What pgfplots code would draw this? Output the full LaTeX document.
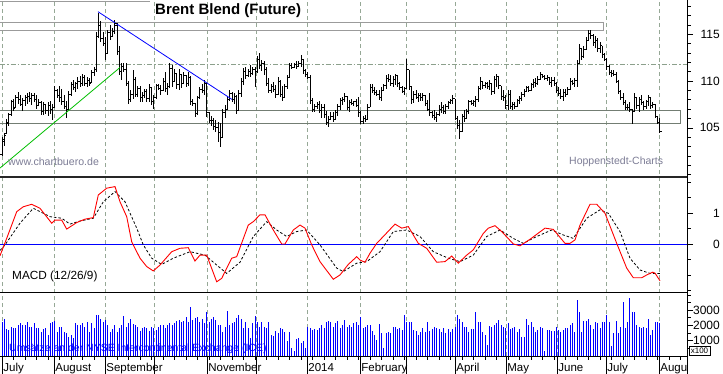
\documentclass[border=0pt]{standalone}
\usepackage{pgfplots}
\pgfplotsset{compat=1.18}
\usepackage{pgfplotstable}
\usepackage{fontspec}
\setmainfont{Liberation Sans}

\definecolor{gridc}{RGB}{150,168,150}
\definecolor{boxc}{RGB}{155,155,155}
\definecolor{rectc}{RGB}{115,125,115}
\definecolor{dashc}{RGB}{140,160,140}
\definecolor{wmark}{RGB}{125,125,150}

\pgfdeclareplotmark{rtick}{\pgfpathmoveto{\pgfpointorigin}\pgfpathlineto{\pgfpoint{1.9pt}{0pt}}\pgfusepathqstroke}
\pgfdeclareplotmark{ltick}{\pgfpathmoveto{\pgfpointorigin}\pgfpathlineto{\pgfpoint{-1.9pt}{0pt}}\pgfusepathqstroke}

\pgfplotstableread{
o h l c v
102.2 104.0 102.0 103.8 2250
103.6 104.4 103.1 104.2 2400
104.4 105.9 104.3 105.6 1750
105.5 106.6 105.2 106.4 1700
106.4 108.0 106.3 107.8 1900
107.8 108.1 106.8 107.1 1850
107.2 108.5 107.1 108.2 1800
108.2 108.8 107.6 108.0 2000
108.0 108.5 107.3 107.5 2150
107.5 108.2 106.8 107.9 2050
107.9 108.5 107.3 108.2 2000
108.2 108.7 107.6 108.4 2250
108.4 108.8 107.8 108.1 1900
108.1 108.7 107.4 108.5 1900
108.5 108.7 107.8 108.0 2150
108.0 108.5 107.0 107.4 1800
107.4 108.1 107.3 107.7 1800
107.7 107.9 106.4 106.8 1600
106.8 107.8 106.4 107.5 1750
107.5 107.6 106.5 106.9 1850
106.9 107.8 106.3 107.4 1350
107.4 107.9 106.5 107.0 2150
107.0 107.5 105.8 107.2 2250
107.2 109.5 107.1 109.0 2300
109.0 109.2 108.2 108.5 1600
108.5 109.5 107.8 108.3 1900
108.3 109.2 107.4 107.8 1900
107.8 108.5 107.0 107.3 1600
107.3 107.9 106.0 107.0 1500
107.0 108.9 106.9 108.6 1250
108.6 109.9 108.4 109.6 1400
109.6 110.1 109.0 109.3 1200
109.3 109.9 108.8 109.7 2150
109.7 110.4 109.2 110.0 2050
110.0 110.5 109.4 109.7 2000
109.7 110.8 109.5 110.4 2150
110.4 110.6 109.5 109.8 1900
109.8 110.4 109.4 110.1 2250
110.1 110.3 109.5 109.8 1600
109.9 111.2 109.8 110.9 2150
110.9 111.5 110.5 111.2 1800
111.2 115.3 111.0 114.8 2700
114.8 117.3 114.6 116.0 2650
116.0 116.4 114.2 114.6 2450
114.6 115.3 113.7 114.0 2250
114.0 114.7 112.2 113.0 2350
113.0 115.5 112.9 115.2 2050
115.2 116.0 114.4 114.8 1600
114.8 115.7 114.7 115.3 1750
115.3 116.5 115.0 116.2 2000
116.0 116.2 112.8 113.2 1550
113.2 113.7 110.6 111.0 1800
111.0 111.9 110.1 111.6 2000
111.6 111.9 111.0 111.2 2600
111.2 111.9 109.5 109.8 1900
109.8 110.0 107.6 108.0 2150
108.0 109.0 107.8 108.6 2450
108.6 111.2 108.1 110.2 2100
110.2 110.4 108.3 108.6 2000
108.6 109.5 108.3 109.2 1900
109.2 109.5 107.8 108.2 1650
108.2 108.8 107.8 108.5 1850
108.5 109.2 108.2 108.9 1900
108.9 109.2 107.8 108.1 1800
108.1 109.7 107.8 109.3 1650
109.3 109.4 107.4 107.8 1900
107.8 108.5 107.0 108.2 1800
108.2 109.7 108.1 109.5 1700
109.5 109.7 109.0 109.2 1900
109.2 109.6 108.5 109.0 2000
109.0 110.3 108.9 110.0 2000
110.0 111.0 108.8 109.2 1800
109.2 109.8 108.5 109.4 2050
109.4 111.9 109.3 111.4 2150
111.4 111.7 109.4 110.0 2000
110.0 111.3 109.9 110.8 2150
110.8 110.9 109.2 109.6 2300
109.6 111.3 109.0 110.7 2350
110.7 110.8 109.3 109.8 2250
109.8 111.0 109.7 110.6 2300
110.6 110.7 109.4 109.8 2550
109.8 111.0 109.5 110.4 2250
110.4 110.5 107.4 107.8 3200
107.8 108.1 107.3 107.6 2350
107.6 107.7 106.2 106.5 2500
106.5 108.4 106.4 108.2 2550
108.2 109.4 108.1 109.1 2250
109.1 109.7 108.7 109.0 2400
109.0 110.1 108.5 109.7 2150
109.7 109.8 106.2 106.6 2900
106.6 106.7 105.5 105.8 2250
105.8 106.3 105.2 105.8 2400
105.8 106.0 104.8 105.2 2550
105.2 105.8 104.6 105.0 2350
105.0 105.6 103.5 104.5 2050
104.5 105.5 102.9 104.0 2000
104.0 107.0 103.9 106.6 1600
106.6 107.4 106.0 107.0 1900
107.0 108.3 106.9 108.0 2950
108.0 109.0 107.9 108.7 2000
108.7 108.8 107.8 108.0 2150
108.0 108.7 107.6 108.4 2250
108.4 108.5 106.5 106.9 2500
106.9 109.0 106.8 108.7 2700
108.7 110.3 108.3 110.0 2400
110.0 111.4 109.6 111.0 1800
111.0 111.5 110.2 110.6 2250
110.6 111.3 110.4 111.0 1800
111.0 111.7 110.4 110.8 1150
110.8 111.5 110.6 111.2 2150
111.2 111.5 109.4 111.0 2600
111.0 112.7 110.9 112.3 2250
112.3 113.0 111.3 111.7 1900
111.7 112.3 111.1 111.9 2250
111.9 112.1 110.6 111.2 1900
111.2 111.5 109.5 109.7 1850
109.7 110.3 108.7 109.0 2250
109.0 109.7 108.7 109.4 1350
109.4 109.9 108.8 109.1 1300
109.1 109.6 108.2 108.6 1650
108.6 110.4 108.5 110.0 1500
110.0 110.1 108.3 108.6 1800
108.6 109.5 107.9 108.3 1750
108.3 109.7 108.2 109.4 1600
109.4 110.6 109.2 110.4 950
110.4 111.9 110.3 111.7 1600
111.7 111.9 111.3 111.5 500
111.5 111.9 111.4 111.8 350
111.8 112.1 111.3 111.6 1100
111.6 112.1 111.5 111.9 1200
111.9 112.8 111.5 112.3 850
112.3 112.4 110.8 111.1 950
111.1 111.3 110.4 110.7 500
110.7 111.0 110.2 110.4 1900
110.4 110.6 107.6 107.9 1800
107.9 108.2 106.7 107.0 1700
107.0 107.6 106.7 107.3 1750
107.3 107.8 107.0 107.5 1700
107.5 107.9 106.6 106.9 1800
106.9 107.6 106.1 107.2 2000
107.2 107.6 106.1 106.4 1800
106.4 106.8 105.3 105.6 2250
105.6 106.3 105.1 105.9 2300
105.9 106.7 105.8 106.2 2250
106.2 106.7 105.6 105.9 1900
105.9 106.9 105.8 106.6 2150
106.6 107.6 106.3 107.3 2300
107.3 108.2 106.9 107.9 1800
107.9 108.3 107.4 108.0 2000
108.0 108.7 107.8 108.4 2350
108.4 108.4 106.9 107.2 1900
107.2 108.0 106.7 107.7 2000
107.7 108.1 107.4 107.6 1900
107.6 107.9 107.3 107.8 2150
107.8 108.1 107.2 107.4 2250
107.4 108.3 106.2 106.6 2000
106.6 106.8 105.4 105.7 2550
105.7 106.3 105.4 106.0 1800
106.0 106.4 105.6 105.9 1900
105.9 107.5 105.8 107.2 2000
107.2 109.7 107.2 109.3 2050
109.3 109.7 108.7 109.0 1650
109.0 109.4 108.5 108.8 1350
108.8 109.0 108.4 108.6 1050
108.6 109.0 108.0 108.3 2100
108.3 109.4 107.9 109.0 1500
109.0 109.7 108.9 109.5 550
109.5 110.6 109.2 110.3 1500
110.3 110.8 109.9 110.2 1600
110.2 110.6 109.5 109.8 1500
109.8 110.5 109.4 110.2 1900
110.2 110.8 109.6 110.6 1900
110.6 110.6 109.4 109.7 1750
109.7 109.9 109.0 109.3 1850
109.3 109.5 108.7 108.9 1700
108.9 109.4 108.5 109.2 2700
109.2 112.4 109.1 111.2 2200
111.2 111.2 109.0 109.4 2200
109.4 109.5 107.6 108.0 2200
108.0 108.9 107.7 108.6 1700
108.6 109.0 108.1 108.3 1650
108.3 108.7 107.8 108.5 1350
108.5 108.7 107.9 108.2 1600
108.2 108.7 107.9 108.5 1800
108.5 108.5 107.3 107.6 1600
107.6 108.0 106.8 107.0 2200
107.0 108.7 106.3 106.6 1650
106.6 106.8 106.0 106.3 1750
106.3 106.9 105.8 106.1 1900
106.1 106.7 105.6 106.4 1850
106.4 107.4 106.3 107.0 1750
107.0 107.8 106.6 107.2 1600
107.2 107.4 106.5 106.8 1850
106.8 107.6 106.5 107.3 1500
107.3 107.9 107.0 107.7 1750
107.7 108.1 107.5 107.9 1600
107.9 108.5 107.6 108.1 1750
108.1 108.1 105.8 106.0 1900
106.0 106.3 104.9 105.3 2650
105.3 105.8 103.8 104.6 2450
104.6 106.5 104.5 106.2 2200
106.2 106.9 105.6 106.0 1900
106.0 107.0 105.9 106.8 1900
106.8 108.0 106.5 107.8 1600
107.8 108.0 107.4 107.6 1750
107.6 108.0 107.3 107.8 1750
107.8 108.4 107.2 108.0 2850
108.0 109.5 107.8 109.2 2250
109.2 110.4 109.0 110.0 2250
110.0 110.0 109.2 109.5 1600
109.5 109.9 109.3 109.7 1350
109.7 109.9 109.2 109.4 700
109.4 110.1 109.0 109.8 1950
109.8 109.8 108.5 108.9 1900
108.9 110.5 108.6 110.2 2000
110.2 110.8 109.4 110.5 2150
110.5 110.5 109.2 109.5 2350
109.5 109.5 108.0 108.4 2000
108.4 109.0 107.9 108.2 1900
108.2 108.5 107.0 107.4 1800
107.4 109.0 106.9 108.6 2150
108.6 109.0 107.0 107.3 1750
107.3 107.8 106.9 107.5 1800
107.5 107.8 107.0 107.3 1900
107.3 108.1 107.2 107.9 1600
107.9 108.4 107.6 108.1 1750
108.1 108.8 107.9 108.6 1250
108.6 109.2 108.3 108.9 1250
108.9 109.5 108.8 109.3 2450
109.3 109.5 108.8 109.0 2000
109.0 109.8 108.9 109.6 2250
109.6 110.2 109.3 109.9 1900
109.9 110.3 109.4 109.7 1600
109.7 110.5 109.6 110.2 1700
110.2 111.0 110.1 110.7 1900
110.7 110.8 110.3 110.5 1850
110.5 110.7 110.1 110.3 300
110.3 110.6 110.0 110.4 1700
110.4 110.4 109.6 109.9 1700
109.9 110.4 109.4 110.1 1650
110.1 110.4 109.5 109.8 1650
109.8 109.9 108.7 109.0 1900
109.0 109.4 108.4 108.7 1700
108.7 109.2 108.1 108.4 1600
108.4 109.1 107.9 108.8 1700
108.8 109.1 108.3 108.6 1800
108.6 109.4 108.5 109.1 1850
109.1 110.3 109.0 110.0 2000
110.0 110.1 109.6 109.8 2150
109.8 110.3 109.4 110.1 1600
110.1 112.2 109.4 111.9 3650
111.9 114.0 111.8 113.5 2850
113.5 113.5 112.2 112.6 1600
112.6 113.7 112.5 113.4 2300
113.4 114.7 113.3 114.4 2300
114.4 115.5 114.3 115.1 2450
115.1 115.5 114.5 114.9 2050
114.9 115.0 113.8 114.1 1750
114.1 114.8 113.5 114.4 2250
114.4 114.6 113.1 113.5 2150
113.5 114.2 113.0 113.8 1800
113.8 113.8 112.5 112.8 2200
112.8 113.0 112.1 112.3 2250
112.3 112.5 111.2 111.6 2700
111.6 111.7 110.6 110.9 2250
110.9 111.2 110.4 110.8 650
110.8 111.2 110.5 110.7 1500
110.7 111.0 109.8 110.0 2300
110.0 110.1 108.6 108.9 1500
108.9 109.0 108.0 108.3 1900
108.3 108.7 107.4 107.7 3500
107.7 108.0 106.9 107.2 1800
107.2 107.6 106.9 107.2 2250
107.2 107.8 106.7 107.0 3800
107.0 107.0 105.4 106.8 2900
106.8 108.7 106.7 108.3 2900
108.3 108.3 107.0 107.4 2000
107.4 108.3 106.7 108.0 1900
108.0 108.5 107.4 107.7 1800
107.7 107.9 106.9 107.3 1900
107.3 108.0 107.0 107.8 1800
107.8 108.5 107.3 108.2 2450
108.2 108.2 107.0 107.4 1400
107.4 107.8 107.1 107.5 1700
107.5 107.5 106.0 106.2 2200
106.2 106.2 105.4 105.6 2250
105.6 106.0 104.4 104.6 2150
}\ohlc

\pgfplotsset{
  panel/.style={
    scale only axis, width=687pt, xmin=0, xmax=687,
    axis y line*=right, axis x line*=bottom, axis line style={-},
    y axis line style={line width=0.8pt, black},
    xtick=\empty, tick align=outside,
    major tick length=6pt, minor tick length=3.5pt,
    tick style={black, line width=0.6pt},
    tick label style={font=\fontsize{12}{14}\selectfont, black},
    yticklabel style={anchor=east, inner sep=0pt, xshift=27pt},
    /pgf/number format/assume math mode=true,
    /pgf/number format/1000 sep={},
    clip=true,
  },
}

\begin{document}
\begin{tikzpicture}
\useasboundingbox (0,0) rectangle (723pt,373pt);
\fill[white] (0,0) rectangle (723pt,373pt);

% month grid lines
\begin{scope}[x=1pt,y=1pt]
\foreach \x in {2,54,105,154,207,256,307,360,406,455,506,557,606,659}
  \draw[gridc, line width=0.7pt, dash pattern=on 4pt off 3pt] (\x,17) -- (\x,373);
\end{scope}

% ---------- price panel ----------
\begin{axis}[panel, at={(0pt,196pt)}, anchor=south west, height=177pt,
  ymin=99.74, ymax=118.67,
  ytick={105,110,115}, minor ytick={100,...,118},
  x axis line style={line width=2pt, black!85}]
\addplot[boxc, line width=0.8pt] coordinates {(0,118.47) (150,118.47)};
\addplot[boxc, line width=0.8pt] coordinates {(0,116.24) (603,116.24) (603,115.46) (0,115.46)};
\addplot[rectc, line width=0.8pt] coordinates {(0,106.90) (680,106.90) (680,105.48) (0,105.48)};
\addplot[dashc, line width=0.8pt, dash pattern=on 5pt off 2pt on 1.5pt off 2pt] coordinates {(0,111.79) (687,111.79)};
\addplot[black, only marks, mark=rtick, mark options={line width=0.8pt},
  error bars/.cd, y dir=both, y explicit, error mark=none,
  error bar style={line width=0.85pt, black}]
  table[x expr={2+2.3*\coordindex}, y=c,
        y error plus expr={\thisrow{h}-\thisrow{c}},
        y error minus expr={\thisrow{c}-\thisrow{l}}]{\ohlc};
\addplot[black, only marks, mark=ltick, mark options={line width=0.8pt}]
  table[x expr={2+2.3*\coordindex}, y=o]{\ohlc};
\addplot[blue, line width=0.8pt] coordinates {(98,117.42) (233,107.97)};
\addplot[green!75!black, line width=0.8pt] coordinates {(0,100.70) (120,111.45)};
\end{axis}

% ---------- MACD panel ----------
\begin{axis}[panel, at={(0pt,81pt)}, anchor=south west, height=115pt,
  ymin=-1.54, ymax=2.17,
  ytick={0,1}, minor ytick={-1.5,-1,-0.5,0.5,1.5,2},
  x axis line style={line width=1pt, black}]
\addplot[blue, line width=0.8pt] coordinates {(0,0) (687,0)};
\addplot[black, line width=0.8pt, dash pattern=on 2.5pt off 2pt] coordinates {
(0,-0.20) (5,-0.02) (20,0.68) (33.3,1.16) (50,0.89) (61.7,0.84) (70,0.65) (80,0.75)
(93.3,0.84) (103.3,1.37) (115,1.70) (125,1.37) (136.7,0.52) (143.3,-0.02)
(151.7,-0.45) (161.7,-0.65) (173.3,-0.45) (190,-0.24) (205,-0.35) (216.7,-0.67)
(226.7,-0.94) (240,-0.58) (253.3,0.25) (266.7,0.73) (276.7,0.46) (286.7,0.25)
(296.7,0.41) (306.7,0.46) (320,-0.02) (336.7,-0.77) (343.3,-0.88) (356.7,-0.61)
(366.7,-0.56) (380,-0.24) (393.3,0.41) (406.7,0.46) (420,0.25) (433.3,-0.24)
(448.3,-0.45) (460,-0.56) (473.3,-0.35) (486.7,0.25) (500,0.46) (513.3,0.19)
(523.3,0.03) (536.7,0.25) (551.7,0.46) (563.3,0.30) (573.3,0.19) (586.7,0.84)
(600,1.11) (608.3,1.0) (620,0.41) (630,-0.45) (640,-0.83) (650,-0.94) (660,-0.94)};
\addplot[red, line width=0.9pt] coordinates {
(0,-0.37) (6.7,0.19) (16.7,1.05) (23.3,1.21) (31.7,1.29) (40,1.16) (51.7,0.68)
(55,0.78) (61.7,0.78) (66.7,0.49) (76.7,0.70) (85,0.81) (93.3,0.86) (98.3,1.59)
(106.7,1.81) (115,1.86) (120,1.37) (126.7,0.89) (131.7,0.08) (140,-0.45)
(146.7,-0.72) (153.3,-0.86) (160,-0.67) (171.7,-0.24) (180,-0.13) (188.3,-0.11)
(195,-0.54) (200,-0.35) (206.7,-0.35) (216.7,-1.21) (221.7,-1.10) (231.7,-0.45)
(236.7,-0.40) (248.3,0.62) (253.3,0.73) (260,0.95) (265,0.95) (273.3,0.46)
(281.7,0.01) (285,0.01) (293.3,0.46) (300,0.62) (305,0.52) (311.7,-0.02)
(320,-0.56) (333.3,-1.13) (340,-0.99) (348.3,-0.65) (356.7,-0.40) (360,-0.51)
(365,-0.58) (370,-0.29) (376.7,0.03) (383.3,0.25) (395,0.65) (401.7,0.52)
(408.3,0.57) (418.3,0.03) (426.7,-0.13) (436.7,-0.58) (445,-0.56) (451.7,-0.38)
(458.3,-0.61) (466.7,-0.35) (473.3,-0.18) (483.3,0.35) (488.3,0.52) (495,0.60)
(501.7,0.41) (513.3,0.01) (520,-0.05) (530,0.16) (545,0.52) (553.3,0.48)
(565,0.03) (570,0.03) (575,0.14) (580,0.62) (590,1.29) (596.7,1.29) (605,1.0)
(616.7,0.03) (626.7,-0.77) (633.3,-1.08) (641.7,-1.08) (646.7,-0.99)
(652.7,-0.90) (655,-0.93) (660,-1.18)};
\end{axis}

% ---------- volume panel ----------
\begin{axis}[panel, at={(0pt,17pt)}, anchor=south west, height=64pt,
  ymin=0, ymax=4183,
  ytick={1000,2000,3000}, minor ytick={500,1500,2500,3500,4000},
  x axis line style={line width=1pt, black}]
\addplot[ycomb, blue, line width=0.9pt, mark=none]
  table[x expr={2+2.3*\coordindex}, y=v]{\ohlc};
\end{axis}

% ---------- bottom axis ticks, labels and texts ----------
\begin{scope}[x=1pt,y=1pt]
\foreach \x in {2,54,105,154,207,256,307,360,406,455,506,557,606,659}
  \draw[black, line width=0.7pt] (\x,17) -- (\x,-2);
\foreach \k in {0,...,59}
  \draw[black, line width=0.6pt] ({2+11.5*\k},17) -- ++(0,-4);
\draw[black, line width=0.8pt] (687,17) -- (687,-2);
\begin{scope}[every node/.style={anchor=base west, inner sep=0pt, font=\fontsize{11.5}{12}\selectfont}]
\node at (3.2,1.8) {July};
\node at (55.2,1.8) {August};
\node at (106.2,1.8) {September};
\node at (208.2,1.8) {November};
\node at (308.2,1.8) {2014};
\node at (361.2,1.8) {February};
\node at (456.2,1.8) {April};
\node at (507.2,1.8) {May};
\node at (558.2,1.8) {June};
\node at (607.2,1.8) {July};
\node at (660.2,1.8) {Augu};
\end{scope}
\node[anchor=base west, inner sep=0pt, font=\fontsize{15}{18}\selectfont\bfseries] at (155,358) {Brent Blend (Future)};
\node[anchor=base west, inner sep=0pt, font=\fontsize{10.6}{12}\selectfont, text=wmark] at (8,208) {www.chartbuero.de};
\node[anchor=base west, inner sep=0pt, font=\fontsize{10.5}{12}\selectfont, text=wmark] at (569,208.5) {Hoppenstedt-Charts};
\node[anchor=base west, inner sep=0pt, font=\fontsize{11.8}{13}\selectfont] at (12,94) {MACD (12/26/9)};
\node[anchor=base west, inner sep=0pt, font=\fontsize{10.5}{12}\selectfont, text=blue] at (9,22) {Umsätze an der NYSE Intercontinental Exchange (ICE)};
\node[draw=black, line width=0.6pt, fill=white, inner sep=0pt, minimum width=21pt, minimum height=9pt, font=\fontsize{8}{9}\selectfont] at (699.5,22.5) {x100};
\end{scope}
\end{tikzpicture}
\end{document}
